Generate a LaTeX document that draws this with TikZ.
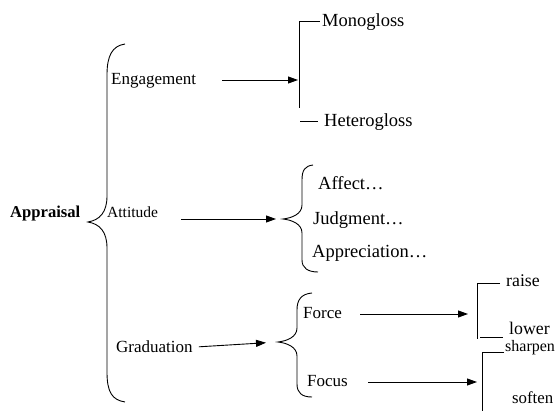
\documentclass[tikz,border=0pt]{standalone}
\usepackage{fontspec}
\setmainfont{Liberation Serif}
\usetikzlibrary{arrows.meta}
\tikzstyle{item text}=[
    inner sep = 0pt,
    anchor = base west,
    font = \fontsize{17}{20}\selectfont
]
\tikzstyle{large text}=[
    item text,
    font = \fontsize{18.5}{22}\selectfont
]
\tikzstyle{pointer}=[
    -{Triangle[length = 10pt, width = 7pt]},
    line width = 0.9pt
]
\tikzstyle{bracket}=[
    line width = 0.9pt
]

\begin{document}
\begin{tikzpicture}[x = 1pt, y = -1pt]
        \useasboundingbox (0,0) rectangle (558,411);

        \node[item text, font = \bfseries\fontsize{16.6}{20}\selectfont] (appraisal) at (10,218) {Appraisal};
        \node[item text] (engagement) at (111,85) {Engagement};
        \node[item text, font = \fontsize{15.5}{19}\selectfont] (attitude) at (107,218) {Attitude};
        \node[item text] (graduation) at (116,353) {Graduation};

        \node[large text] (monogloss) at (322,27) {Monogloss};
        \node[large text] (heterogloss) at (324,127) {Heterogloss};
        \node[large text] (affect) at (318,190) {Affect…};
        \node[large text] (judgment) at (313,225) {Judgment…};
        \node[large text] (appreciation) at (312,258) {Appreciation…};

        \node[item text] (force) at (303,319) {Force};
        \node[item text] (focus) at (307,387) {Focus};
        \node[item text, font = \fontsize{17.8}{21}\selectfont] (raise) at (506,287) {raise};
        \node[item text, font = \fontsize{17.8}{21}\selectfont] (lower) at (509,335) {lower};
        \node[item text, font = \fontsize{16}{19}\selectfont] (sharpen) at (505,352) {sharpen};
        \node[item text, font = \fontsize{16.8}{20}\selectfont] (soften) at (512,404) {soften};

        % bracket corners and arrow ends
        \coordinate (monotop) at (299,21);
        \coordinate (monobot) at (299,108);
        \coordinate (heterotick) at (300,121);
        \coordinate (engto) at (298,80);
        \coordinate (atttip) at (283,219);
        \coordinate (gradtip) at (278,342);
        \coordinate (raisetop) at (477,283);
        \coordinate (raisebot) at (477,339);
        \coordinate (lowertick) at (480,337);
        \coordinate (forceto) at (468,314);
        \coordinate (sharpentop) at (482,352);
        \coordinate (sharpenbot) at (482,411);
        \coordinate (focusto) at (477,382);

        % braces
        \draw[bracket] (125,44) .. controls (112,46) and (107,56) .. (107,75) -- (107,196)
            .. controls (107,212) and (100,220) .. (88,222)
            .. controls (100,224) and (107,232) .. (107,248) -- (107,372)
            .. controls (107,392) and (112,400) .. (125,402);
        \draw[bracket] (313,165) .. controls (305,166) and (302,170) .. (302,180) -- (302,205)
            .. controls (302,214) and (292,218) .. (atttip)
            .. controls (292,220) and (302,224) .. (302,233) -- (302,260)
            .. controls (302,268) and (308,272) .. (318,272);
        \draw[bracket] (312,293) .. controls (301,294) and (297,300) .. (297,310) -- (297,328)
            .. controls (297,337) and (287,341) .. (gradtip)
            .. controls (287,343) and (297,347) .. (297,356) -- (297,384)
            .. controls (297,393) and (302,397) .. (312,397);

        \draw[bracket, shorten <= 2pt] (monogloss.west |- monotop) -- (monotop) -- (monobot);
        \draw[bracket, shorten >= 6pt] (heterotick) -- (heterogloss.west |- heterotick);
        \draw[bracket, shorten <= 6pt] (raise.west |- raisetop) -- (raisetop) -- (raisebot);
        \draw[bracket, shorten >= 6pt] (lowertick) -- (lower.west |- lowertick);
        \draw[bracket, shorten <= 1pt] (sharpen.west |- sharpentop) -- (sharpentop) -- (sharpenbot);

        \draw[pointer, shorten <= 26pt] (engagement.east |- engto) -- (engto);
        \draw[pointer, shorten <= 23pt, shorten >= 7pt] (attitude.east |- atttip) -- (atttip);
        \draw[pointer, shorten <= 6pt, shorten >= 12pt] (graduation.east) -- (gradtip);
        \draw[pointer, shorten <= 18pt] (force.east |- forceto) -- (forceto);
        \draw[pointer, shorten <= 20pt] (focus.east |- focusto) -- (focusto);

    \end{tikzpicture}
\end{document}
